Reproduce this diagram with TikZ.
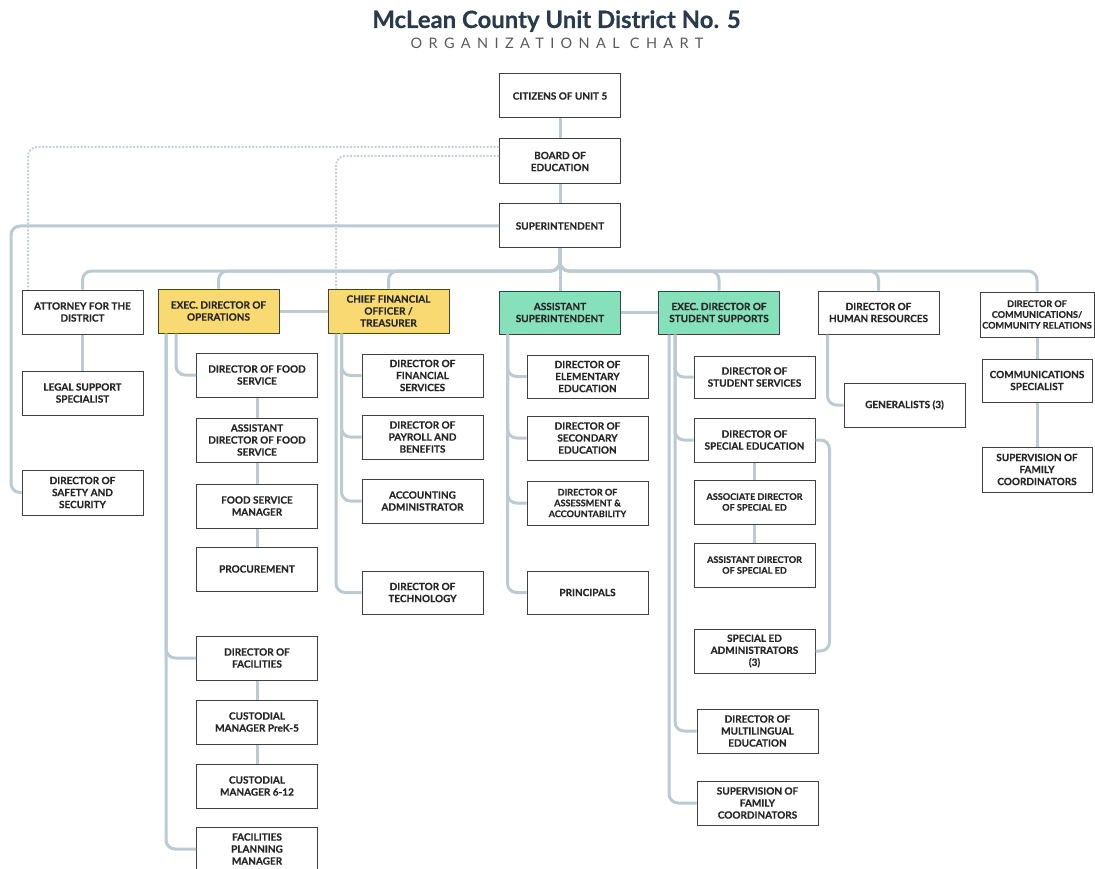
\documentclass[tikz,border=0pt]{standalone}
\usepackage{fontspec}
\setmainfont{Lato}
\newfontfamily\spacedfont[LetterSpace=44]{Lato}
\newfontfamily\boxfont[FakeBold=0.35]{Lato}
\usetikzlibrary{arrows.meta,calc,positioning}
\definecolor{linkgray}{HTML}{BCCAD2}
\definecolor{opsyellow}{HTML}{F9DA72}
\definecolor{supgreen}{HTML}{86E0BC}
\definecolor{titleblue}{HTML}{283A4B}
\definecolor{boxtext}{HTML}{262626}

\begin{document}
\begin{tikzpicture}[x=1pt, y=-1pt,
    unit/.style={draw=black!75, line width=1pt, fill=white, minimum width=121pt,
      minimum height=44pt, inner sep=1pt, align=center, text=boxtext,
      font=\boxfont\bfseries\fontsize{10}{12}\selectfont},
    yellowunit/.style={unit, fill=opsyellow},
    greenunit/.style={unit, fill=supgreen},
    smalltext/.style={font=\boxfont\bfseries\fontsize{9.1}{10.8}\selectfont},
    link/.style={draw=linkgray, line width=3pt, rounded corners=9pt},
    dotlink/.style={draw=linkgray!85, line width=2pt, dash pattern=on 2pt off 1.5pt, rounded corners=9pt}]
  \useasboundingbox (0,0) rectangle (1095,869);
  \node[font=\boxfont\bfseries\fontsize{23.9}{28}\selectfont, text=titleblue, anchor=base] (title) at (556.5,28) {McLean County Unit District No. 5};
  \node[font=\spacedfont\fontsize{14.5}{17}\selectfont, text=black!65, anchor=base] (subtitle) at (557,49) {ORGANIZATIONAL CHART};
  % board and superintendent
  \node[unit] (citizens) at (560,96) {CITIZENS OF UNIT 5};
  \node[unit, minimum height=45pt] (board) at (560,161.5) {BOARD OF\\EDUCATION};
  \node[unit] (supt) at (560,226) {SUPERINTENDENT};
  % cabinet
  \node[unit] (attorney) at (82.5,312) {ATTORNEY FOR THE\\DISTRICT};
  \node[yellowunit] (ops) at (218.5,311) {EXEC. DIRECTOR OF\\OPERATIONS};
  \node[yellowunit] (cfo) at (388.5,311) {CHIEF FINANCIAL\\OFFICER /\\TREASURER};
  \node[greenunit, minimum height=43pt] (asupt) at (560,312.5) {ASSISTANT\\SUPERINTENDENT};
  \node[greenunit, minimum height=43pt] (students) at (719,312.5) {EXEC. DIRECTOR OF\\STUDENT SUPPORTS};
  \node[unit, minimum height=43pt] (hr) at (878.5,312.5) {DIRECTOR OF\\HUMAN RESOURCES};
  \node[unit, smalltext, inner sep=0pt, minimum width=114pt, minimum height=45pt] (comms) at (1037,314.5) {DIRECTOR OF\\COMMUNICATIONS/\\COMMUNITY RELATIONS};
  % staff
  \node[unit] (legal) at (82.5,393) {LEGAL SUPPORT\\SPECIALIST};
  \node[unit, minimum height=45pt] (safety) at (82.5,492.5) {DIRECTOR OF\\SAFETY AND\\SECURITY};
  \node[unit] (foodsvc) at (257,375) {DIRECTOR OF FOOD\\SERVICE};
  \node[unit] (asstfood) at (257,440) {ASSISTANT\\DIRECTOR OF FOOD\\SERVICE};
  \node[unit] (foodmgr) at (257,506) {FOOD SERVICE\\MANAGER};
  \node[unit] (procure) at (257,569) {PROCUREMENT};
  \node[unit] (facilities) at (257,658) {DIRECTOR OF\\FACILITIES};
  \node[unit] (custk5) at (257,722) {CUSTODIAL\\MANAGER PreK-5};
  \node[unit] (cust612) at (257,786) {CUSTODIAL\\MANAGER 6-12};
  \node[unit] (planning) at (257,849) {FACILITIES\\PLANNING\\MANAGER};
  \node[unit, minimum height=43pt] (finsvc) at (422.5,375.5) {DIRECTOR OF\\FINANCIAL\\SERVICES};
  \node[unit] (payroll) at (422.5,437) {DIRECTOR OF\\PAYROLL AND\\BENEFITS};
  \node[unit] (accounting) at (422.5,501) {ACCOUNTING\\ADMINISTRATOR};
  \node[unit, minimum height=43pt] (tech) at (422.5,592.5) {DIRECTOR OF\\TECHNOLOGY};
  \node[unit, minimum height=43pt] (elem) at (587.5,376.5) {DIRECTOR OF\\ELEMENTARY\\EDUCATION};
  \node[unit] (secondary) at (587.5,438) {DIRECTOR OF\\SECONDARY\\EDUCATION};
  \node[unit, smalltext] (assess) at (587.5,503) {DIRECTOR OF\\ASSESSMENT \&\\ACCOUNTABILITY};
  \node[unit, minimum height=43pt] (principals) at (587.5,592.5) {PRINCIPALS};
  \node[unit, minimum height=42pt] (studsvc) at (754.5,377) {DIRECTOR OF\\STUDENT SERVICES};
  \node[unit] (speced) at (754.5,440) {DIRECTOR OF\\SPECIAL EDUCATION};
  \node[unit, smalltext] (assocsped) at (754.5,502) {ASSOCIATE DIRECTOR\\OF SPECIAL ED};
  \node[unit, smalltext] (asstsped) at (754.5,565) {ASSISTANT DIRECTOR\\OF SPECIAL ED};
  \node[unit] (spedadmin) at (754.5,651) {SPECIAL ED\\ADMINISTRATORS\\(3)};
  \node[unit] (multiling) at (757.5,731) {DIRECTOR OF\\MULTILINGUAL\\EDUCATION};
  \node[unit] (famcoord) at (757.5,803) {SUPERVISION OF\\FAMILY\\COORDINATORS};
  \node[unit] (generalists) at (904.5,405) {GENERALISTS (3)};
  \node[unit, minimum width=110pt, minimum height=43pt] (commspec) at (1037,380.5) {COMMUNICATIONS\\SPECIALIST};
  \node[unit, minimum width=110pt, minimum height=45pt] (commfam) at (1037,469.5) {SUPERVISION OF\\FAMILY\\COORDINATORS};
  % chain of command
  \draw[link] (citizens) -- (board) (board) -- (supt) (supt) -- (asupt);
  \foreach \n in {attorney,ops,cfo,students,hr,comms}
    \draw[link] (supt.south) -- (560,271) -| (\n.north);
  \draw[link] (supt.west) -| ([xshift=-10.5pt]safety.west) -- (safety.west);
  \draw[dotlink] ([yshift=14.5pt]board.west) -| ([xshift=-54.5pt]attorney.north);
  \draw[dotlink] ([yshift=5.5pt]board.west) -| ([xshift=-52.5pt]cfo.north);
  \draw[link] (ops) -- (cfo) (asupt) -- (students) (attorney) -- (legal);
  % operations
  \draw[link] ([xshift=-42.5pt]ops.south) |- (foodsvc.west);
  \foreach \n in {facilities,planning}
    \draw[link] ([xshift=-52.5pt]ops.south) |- (\n.west);
  \draw[link] (foodsvc) -- (asstfood) (asstfood) -- (foodmgr) (foodmgr) -- (procure);
  \draw[link] (facilities) -- (custk5) (custk5) -- (cust612);
  % finance
  \foreach \n in {finsvc,payroll,accounting}
    \draw[link] ([xshift=-47pt]cfo.south) |- (\n.west);
  \draw[link] ([xshift=-52.5pt]cfo.south) |- (tech.west);
  % instruction
  \foreach \n in {elem,secondary,assess,principals}
    \draw[link] ([xshift=-52.5pt]asupt.south) |- (\n.west);
  % student supports
  \foreach \n in {studsvc,speced,multiling}
    \draw[link] ([xshift=-44pt]students.south) |- (\n.west);
  \draw[link] ([xshift=-50pt]students.south) |- (famcoord.west);
  \draw[link] (speced) -- (assocsped) (assocsped) -- (asstsped);
  \draw[link] (speced.east) -| ([xshift=14pt]spedadmin.east) -- (spedadmin.east);
  % hr and communications
  \draw[link] ([xshift=-51pt]hr.south) |- (generalists.west);
  \draw[link] (comms) -- (commspec) (commspec) -- (commfam);
\end{tikzpicture}
\end{document}
